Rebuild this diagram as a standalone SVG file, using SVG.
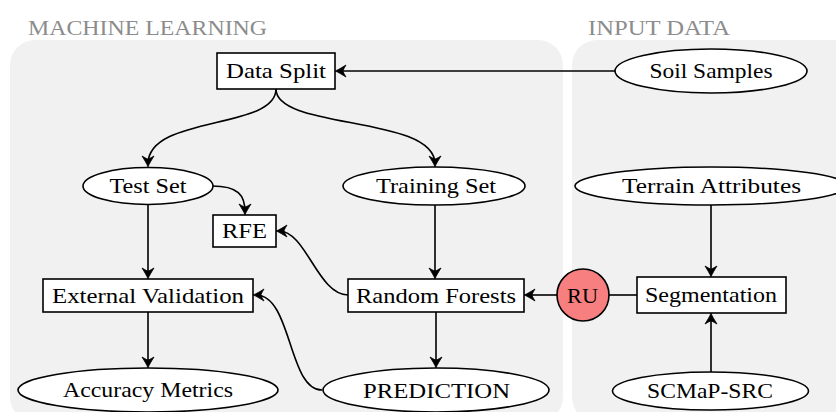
<svg xmlns="http://www.w3.org/2000/svg" width="836" height="412" viewBox="0 0 836 412">
<defs>
<style>
.panel{fill:#f1f1f1;stroke:none}
.title{font-size:22px;fill:#8c8c8c}
.lbl{font-size:22px;fill:#000;text-anchor:middle}
.box{fill:#fff;stroke:#000;stroke-width:1.6}
.ru{fill:#f77f7f;stroke:#000;stroke-width:1.6}
.edge{fill:none;stroke:#000;stroke-width:1.6}
.arr{marker-end:url(#stealth)}
</style>
<marker id="stealth" viewBox="-13 -7 16 14" markerWidth="16" markerHeight="14" refX="-3" refY="0" orient="auto" markerUnits="userSpaceOnUse">
<path d="M0,0 C-3,-1 -7,-3.5 -11,-6 C-9,-2.5 -8,-1 -8,0 C-8,1 -9,2.5 -11,6 C-7,3.5 -3,1 0,0 Z" fill="#000" stroke="#000" stroke-width="0.8" stroke-linejoin="round"/>
</marker>
</defs>

<g font-family="Liberation Serif, Tinos, Noto Serif, DejaVu Serif, FreeSerif, Times New Roman, Times, serif">
<g id="panels">
<rect class="panel" x="10" y="40" width="553" height="382" rx="25" ry="25"/>
<rect class="panel" x="572" y="40" width="300" height="382" rx="25" ry="25"/>
<text class="title" x="28" y="35" textLength="239" lengthAdjust="spacingAndGlyphs">MACHINE LEARNING</text>
<text class="title" x="588" y="35" textLength="142" lengthAdjust="spacingAndGlyphs">INPUT DATA</text>
</g>

<g id="connectors">
<path class="edge arr" d="M615,71 L338,71"/>
<path class="edge arr" d="M276,89 C276,130 148,115 148,164"/>
<path class="edge arr" d="M276,89 C276,130 435,115 435,164"/>
<path class="edge arr" d="M212,186 C238,186 245,195 245,212"/>
<path class="edge arr" d="M148,205 L148,276"/>
<path class="edge arr" d="M435,205 L435,276"/>
<path class="edge arr" d="M348,295 C318,295 306,231 279,231"/>
<path class="edge arr" d="M322,390 C288,390 292,295 256,295"/>
<path class="edge arr" d="M148,312 L148,365"/>
<path class="edge arr" d="M436,312 L436,365"/>
<path class="edge arr" d="M557,295 L527,295"/>
<path class="edge" d="M637,295 L609,295"/>
<path class="edge arr" d="M711,205 L711,274"/>
<path class="edge arr" d="M711,372 L711,316"/>
</g>

<g id="data-split">
<rect class="box" x="217" y="53" width="118" height="36"/>
<text class="lbl" x="276" y="78" textLength="100" lengthAdjust="spacingAndGlyphs">Data Split</text>
</g>
<g id="soil-samples">
<ellipse class="box" cx="711" cy="71" rx="96" ry="22"/>
<text class="lbl" x="711" y="78" textLength="123" lengthAdjust="spacingAndGlyphs">Soil Samples</text>
</g>
<g id="test-set">
<ellipse class="box" cx="148" cy="186" rx="65" ry="18.5"/>
<text class="lbl" x="148" y="193" textLength="77" lengthAdjust="spacingAndGlyphs">Test Set</text>
</g>
<g id="training-set">
<ellipse class="box" cx="434" cy="186" rx="91" ry="19"/>
<text class="lbl" x="436" y="193" textLength="120" lengthAdjust="spacingAndGlyphs">Training Set</text>
</g>
<g id="terrain-attributes">
<ellipse class="box" cx="711" cy="186" rx="136" ry="19"/>
<text class="lbl" x="711.5" y="193" textLength="179" lengthAdjust="spacingAndGlyphs">Terrain Attributes</text>
</g>
<g id="rfe">
<rect class="box" x="213" y="215" width="63" height="32"/>
<text class="lbl" x="244.5" y="238" textLength="45" lengthAdjust="spacingAndGlyphs">RFE</text>
</g>
<g id="external-validation">
<rect class="box" x="43" y="279" width="210" height="33"/>
<text class="lbl" x="148" y="302.5" textLength="192" lengthAdjust="spacingAndGlyphs">External Validation</text>
</g>
<g id="random-forests">
<rect class="box" x="348" y="279" width="176" height="33"/>
<text class="lbl" x="436" y="302.5" textLength="160" lengthAdjust="spacingAndGlyphs">Random Forests</text>
</g>
<g id="ru">
<circle class="ru" cx="583" cy="295" r="26"/>
<text class="lbl" x="582.5" y="302.5" textLength="31" lengthAdjust="spacingAndGlyphs">RU</text>
</g>
<g id="segmentation">
<rect class="box" x="637" y="277" width="149" height="36"/>
<text class="lbl" x="711" y="302" textLength="132" lengthAdjust="spacingAndGlyphs">Segmentation</text>
</g>
<g id="accuracy-metrics">
<ellipse class="box" cx="148" cy="390" rx="130" ry="22"/>
<text class="lbl" x="148" y="397" textLength="170" lengthAdjust="spacingAndGlyphs">Accuracy Metrics</text>
</g>
<g id="prediction">
<ellipse class="box" cx="436" cy="390" rx="113" ry="22"/>
<text class="lbl" x="436.5" y="397.5" textLength="147" lengthAdjust="spacingAndGlyphs">PREDICTION</text>
</g>
<g id="scmap-src">
<ellipse class="box" cx="710.5" cy="391" rx="98" ry="19"/>
<text class="lbl" x="710" y="398" textLength="126" lengthAdjust="spacingAndGlyphs">SCMaP-SRC</text>
</g>
</g>
</svg>
